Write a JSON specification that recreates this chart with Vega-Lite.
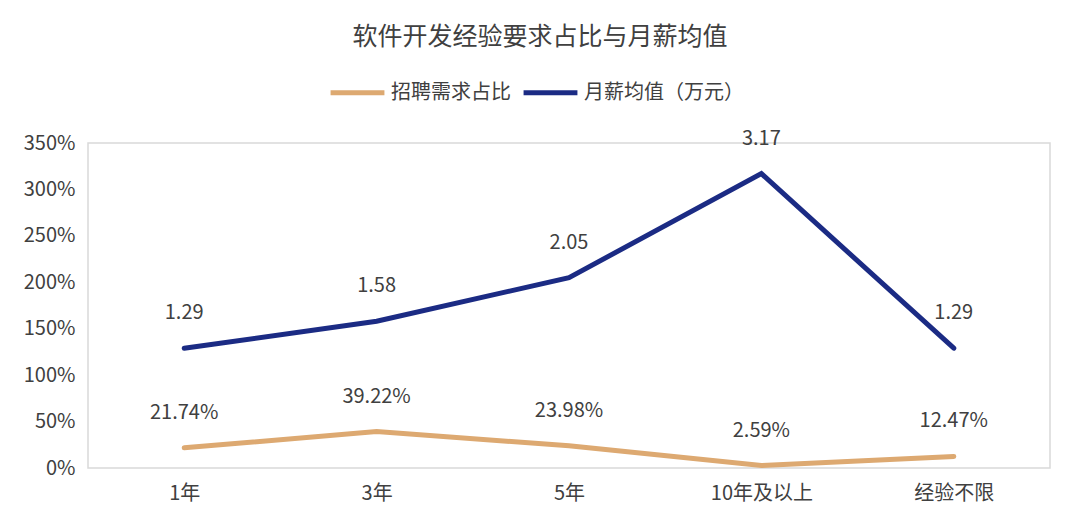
{
  "$schema": "https://vega.github.io/schema/vega-lite/v6.json",
  "autosize": "none",
  "width": 962,
  "height": 325,
  "padding": {"left": 88, "top": 143, "right": 30, "bottom": 61},
  "background": "white",
  "title": {
    "text": "软件开发经验要求占比与月薪均值",
    "font": "Noto Sans CJK SC",
    "fontSize": 25,
    "fontWeight": "normal",
    "color": "#404040",
    "anchor": "middle",
    "dx": -29,
    "offset": 13
  },
  "config": {
    "font": "Noto Sans CJK SC",
    "view": {"stroke": "#d9d9d9", "strokeWidth": 1.5}
  },
  "data": {
    "values": [
      {"exp": "1年", "series": "招聘需求占比", "value": 0.2174},
      {"exp": "3年", "series": "招聘需求占比", "value": 0.3922},
      {"exp": "5年", "series": "招聘需求占比", "value": 0.2398},
      {"exp": "10年及以上", "series": "招聘需求占比", "value": 0.0259},
      {"exp": "经验不限", "series": "招聘需求占比", "value": 0.1247},
      {"exp": "1年", "series": "月薪均值（万元）", "value": 1.29},
      {"exp": "3年", "series": "月薪均值（万元）", "value": 1.58},
      {"exp": "5年", "series": "月薪均值（万元）", "value": 2.05},
      {"exp": "10年及以上", "series": "月薪均值（万元）", "value": 3.17},
      {"exp": "经验不限", "series": "月薪均值（万元）", "value": 1.29}
    ]
  },
  "encoding": {
    "x": {
      "field": "exp",
      "type": "nominal",
      "sort": ["1年", "3年", "5年", "10年及以上", "经验不限"],
      "scale": {"type": "point", "padding": 0.5},
      "axis": {
        "title": null,
        "domain": false,
        "ticks": false,
        "labelAngle": 0,
        "labelFontSize": 20,
        "labelColor": "#404040",
        "labelPadding": 15
      }
    },
    "y": {
      "field": "value",
      "type": "quantitative",
      "scale": {"domain": [0, 3.5]},
      "axis": {
        "title": null,
        "domain": false,
        "ticks": false,
        "grid": false,
        "values": [0, 0.5, 1, 1.5, 2, 2.5, 3, 3.5],
        "format": ".0%",
        "labelFontSize": 20,
        "labelColor": "#404040",
        "labelPadding": 13
      }
    }
  },
  "layer": [
    {
      "mark": {"type": "line", "strokeWidth": 5, "strokeCap": "round", "strokeJoin": "miter"},
      "encoding": {
        "color": {
          "field": "series",
          "type": "nominal",
          "sort": ["招聘需求占比", "月薪均值（万元）"],
          "scale": {"domain": ["招聘需求占比", "月薪均值（万元）"], "range": ["#DDA971", "#1B2B84"]},
          "legend": {
            "title": null,
            "orient": "none",
            "legendX": 240,
            "legendY": -80,
            "direction": "horizontal",
            "symbolType": "stroke",
            "symbolSize": 2900,
            "symbolStrokeWidth": 5,
            "labelFontSize": 20,
            "labelColor": "#404040",
            "labelOffset": 4,
            "columnPadding": 2
          }
        }
      }
    },
    {
      "transform": [{"filter": "datum.series == '招聘需求占比'"}],
      "mark": {"type": "text", "dy": -35, "fontSize": 20, "color": "#404040"},
      "encoding": {"text": {"field": "value", "type": "quantitative", "format": ".2%"}}
    },
    {
      "transform": [{"filter": "datum.series == '月薪均值（万元）'"}],
      "mark": {"type": "text", "dy": -35, "fontSize": 20, "color": "#404040"},
      "encoding": {"text": {"field": "value", "type": "quantitative", "format": ".2f"}}
    }
  ]
}
